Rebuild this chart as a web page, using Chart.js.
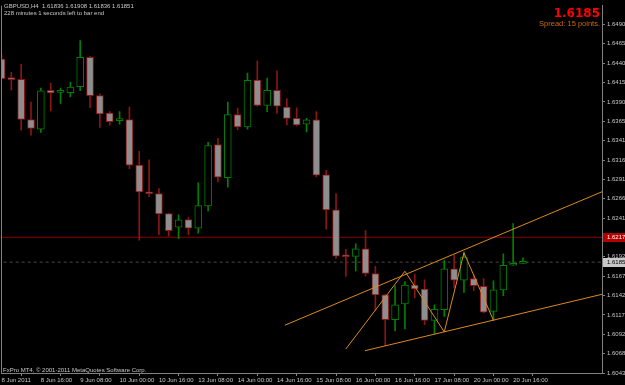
<!DOCTYPE html>
<html>
<head>
<meta charset="utf-8">
<title>GBPUSD,H4</title>
<script src="https://cdn.jsdelivr.net/npm/chart.js"></script>
<style>
  html, body { margin: 0; padding: 0; background: #000; }
  #wrap { position: relative; width: 625px; height: 385px; overflow: hidden; background: #000; }
  #wrap canvas { position: absolute; left: 0; top: 0; }
  .txt { position: absolute; white-space: nowrap; line-height: 1;
         font-family: 'Liberation Sans', Arial, sans-serif; font-size: 6px; color: #c8c8c8; }
  #price { right: 25px; top: 6.6px; font-family: 'DejaVu Sans', sans-serif; font-weight: bold; font-size: 12px; color: #ff0000; }
  #spread { right: 25px; top: 19.6px; font-size: 7.5px; color: #cc6a14; }
</style>
</head>
<body>
<div id="wrap">
  <canvas id="chart" width="625" height="385"></canvas>
  <div class="txt" style="left:4px; top:3px">GBPUSD,H4&nbsp; 1.61836 1.61908 1.61836 1.61851</div>
  <div class="txt" style="left:4px; top:10px">228 minutes 1 seconds left to bar end</div>
  <div class="txt" id="price">1.6185</div>
  <div class="txt" id="spread">Spread: 15 points.</div>
  <div class="txt" style="left:3px; top:366.5px">FxPro MT4, © 2001-2011 MetaQuotes Software Corp.</div>
</div>
<script>
// H4 bars, 8 Jun 2011 00:00 .. 20 Jun 2011 20:00
const opens  = [1.64455,1.64211,1.64194,1.63678,1.63555,1.64055,1.64027,1.64024,1.64100,1.64477,
                1.63986,1.63763,1.63666,1.63678,1.63095,1.62753,1.62731,1.62474,1.62300,1.62398,
                1.62288,1.62572,1.63358,1.62934,1.63742,1.63586,1.64185,1.63859,1.64055,1.63839,
                1.63695,1.63619,1.63674,1.62972,1.62521,1.61929,1.61925,1.62022,1.61705,1.61431,
                1.61114,1.61317,1.61558,1.61507,1.61105,1.61241,1.61764,1.61621,1.61642,1.61540,
                1.61219,1.61495,1.61811,1.61836];
const highs  = [1.64515,1.64283,1.64388,1.63903,1.64084,1.64147,1.64084,1.64160,1.64692,1.64489,
                1.64008,1.63780,1.63780,1.63839,1.63273,1.63162,1.62795,1.62480,1.62458,1.62423,
                1.62867,1.63387,1.63437,1.63903,1.63827,1.64274,1.64430,1.64211,1.64303,1.63948,
                1.63830,1.63695,1.63780,1.63028,1.62731,1.62014,1.62085,1.62255,1.61799,1.61440,
                1.61549,1.61603,1.61697,1.61625,1.61304,1.61879,1.61942,1.61980,1.61685,1.61642,
                1.61612,1.61958,1.62347,1.61908];
const lows   = [1.64198,1.64055,1.63543,1.63479,1.63513,1.63789,1.63885,1.63970,1.64050,1.63830,
                1.63577,1.63606,1.63619,1.63048,1.62132,1.62690,1.62204,1.62183,1.62154,1.62204,
                1.62224,1.62508,1.62880,1.62813,1.63548,1.63555,1.63852,1.63780,1.63758,1.63611,
                1.63598,1.63522,1.62943,1.62275,1.61900,1.61667,1.61739,1.61672,1.61232,1.60780,
                1.60970,1.60995,1.61393,1.61051,1.60928,1.61156,1.61520,1.61464,1.61486,1.61200,
                1.61105,1.61422,1.61811,1.61836];
const closes = [1.64202,1.64191,1.63682,1.63564,1.64046,1.64020,1.64033,1.64096,1.64477,1.63986,
                1.63750,1.63653,1.63672,1.63095,1.62753,1.62728,1.62470,1.62255,1.62394,1.62288,
                1.62576,1.63345,1.62939,1.63742,1.63586,1.64181,1.63859,1.64055,1.63852,1.63695,
                1.63611,1.63674,1.62965,1.62521,1.61929,1.61920,1.62022,1.61705,1.61431,1.61114,
                1.61304,1.61558,1.61507,1.61105,1.61245,1.61764,1.61621,1.61917,1.61549,1.61211,
                1.61495,1.61811,1.61836,1.61851];

// time axis: one label every 4 bars
const timeTickBars = [0,4,8,12,16,20,24,28,32,36,40,44,48,52];
const timeLabels = ['8 Jun 2011','8 Jun 16:00','9 Jun 08:00','10 Jun 00:00','10 Jun 16:00','13 Jun 08:00',
                    '14 Jun 00:00','14 Jun 16:00','15 Jun 08:00','16 Jun 00:00','16 Jun 16:00',
                    '17 Jun 08:00','20 Jun 00:00','20 Jun 16:00'];
const priceTicks = [1.64900,1.64650,1.64400,1.64155,1.63905,1.63655,1.63410,1.63160,1.62910,1.62665,
                    1.62415,1.62170,1.61920,1.61670,1.61425,1.61175,1.60925,1.60680,1.60430];

// horizontal level, bid line and the drawn objects (bar index, price)
const redLevel = 1.62170;
const bidLevel = 1.61851;
const upperChannel = [[28.81,1.61043],[62,1.62805]];
const lowerChannel = [[36.94,1.60716],[62,1.61468]];
const zigzag = [[35,1.60738],[41,1.61735],[45,1.60957],[47,1.61971],[50,1.61105]];

const BULL = '#008000', BEAR = '#8c1414', BEAR_FILL = '#8e8e8e', ORANGE = '#d98a1e';
const SMALL = { family: "'Liberation Sans', Arial, sans-serif", size: 6 };

const idx = opens.map((_, i) => i);
const isBull = idx.map(i => closes[i] >= opens[i]);
const pts = arr => arr.map(p => ({x: p[0], y: p[1]}));

const overlay = {
  id: 'overlay',
  beforeDraw(chart) {
    const c = chart.ctx;
    c.save(); c.fillStyle = '#000'; c.fillRect(0, 0, chart.width, chart.height); c.restore();
  },
  afterDraw(chart) {
    const c = chart.ctx, a = chart.chartArea, y = chart.scales.y;
    c.save();
    c.strokeStyle = '#808080'; c.lineWidth = 1;
    c.beginPath(); c.moveTo(a.left + 0.5, a.top); c.lineTo(a.left + 0.5, a.bottom); c.stroke();
    c.font = "6px 'Liberation Sans', Arial, sans-serif";
    c.textBaseline = 'middle';
    const box = (v, bg, fg) => {
      const py = Math.round(y.getPixelForValue(v));
      c.fillStyle = bg; c.fillRect(a.right + 1, py - 4, chart.width - a.right, 9);
      c.fillStyle = fg; c.fillText(v.toFixed(5), a.right + 5, py + 0.5);
    };
    box(redLevel, '#b40000', '#ffffff');
    box(bidLevel, '#c8c8c8', '#000000');
    c.restore();
  }
};

new Chart(document.getElementById('chart'), {
  type: 'bar',
  data: {
    datasets: [
      { type: 'line', data: pts(upperChannel), borderColor: ORANGE, borderWidth: 1, pointRadius: 0, tension: 0 },
      { type: 'line', data: pts(lowerChannel), borderColor: ORANGE, borderWidth: 1, pointRadius: 0, tension: 0 },
      { type: 'line', data: pts(zigzag), borderColor: ORANGE, borderWidth: 1, pointRadius: 0, tension: 0 },
      {
        data: idx.map(i => ({x: i, y: [Math.min(opens[i], closes[i]), Math.max(opens[i], closes[i])]})),
        backgroundColor: idx.map(i => isBull[i] ? '#000000' : BEAR_FILL),
        borderColor: idx.map(i => isBull[i] ? BULL : BEAR),
        borderWidth: 1, borderSkipped: false, barThickness: 7, minBarLength: 2, grouped: false
      },
      {
        data: idx.map(i => ({x: i, y: [lows[i], highs[i]]})),
        backgroundColor: idx.map(i => isBull[i] ? BULL : BEAR),
        borderWidth: 0, barThickness: 1, minBarLength: 1, grouped: false
      },
      { type: 'line', data: [{x: -1, y: redLevel}, {x: 62, y: redLevel}], borderColor: '#8b0000', borderWidth: 1, pointRadius: 0 },
      { type: 'line', data: [{x: -1, y: bidLevel}, {x: 62, y: bidLevel}], borderColor: '#4a4a4a', borderWidth: 1, borderDash: [3, 3], pointRadius: 0 }
    ]
  },
  options: {
    responsive: false,
    animation: false,
    devicePixelRatio: 1,
    layout: { padding: { left: 1, top: 2, right: 0, bottom: 0 } },
    plugins: { legend: { display: false }, tooltip: { enabled: false } },
    scales: {
      x: {
        type: 'linear', offset: false, min: -0.05, max: 61.03,
        afterBuildTicks: s => { s.ticks = timeTickBars.map(v => ({value: v})); },
        afterFit: s => { s.height = 12; },
        ticks: {
          autoSkip: false, maxRotation: 0, minRotation: 0, align: 'start', padding: 1,
          color: '#c8c8c8', font: SMALL,
          callback: v => timeLabels[timeTickBars.indexOf(v)]
        },
        grid: { drawOnChartArea: false, color: '#808080', tickLength: 3 },
        border: { color: '#808080' }
      },
      y: {
        type: 'linear', position: 'right', min: 1.6043, max: 1.6514,
        afterBuildTicks: s => { s.ticks = priceTicks.map(v => ({value: v})); },
        afterFit: s => { s.width = 23; },
        ticks: {
          autoSkip: false, padding: 2, color: '#c8c8c8', font: SMALL,
          callback: v => Number(v).toFixed(5)
        },
        grid: { drawOnChartArea: false, color: '#808080', tickLength: 3 },
        border: { color: '#808080' }
      }
    }
  },
  plugins: [overlay]
});
</script>
</body>
</html>
